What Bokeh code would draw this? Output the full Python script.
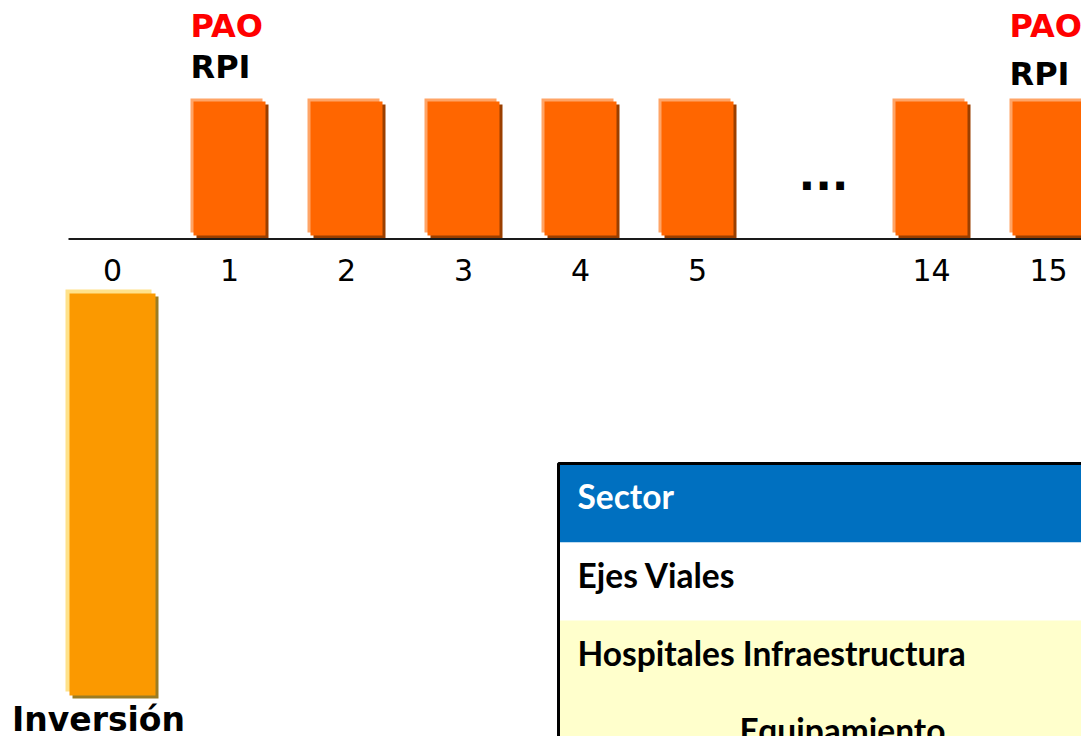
from bokeh.plotting import figure
from bokeh.models import Range1d
from bokeh.core.properties import value
from bokeh.embed import file_html
from bokeh.resources import INLINE

# ---------------- data ----------------
periods = ["0", "1", "2", "3", "4", "5", "14", "15"]
payment_periods = ["1", "2", "3", "4", "5", "14", "15"]
payment_values = [1.0, 1.0, 1.0, 1.0, 1.0, 1.0, 1.0]
investment_label = "Inversión"
investment_value = 3.0
gap_label = "..."
pao_periods = ["1", "15"]
pao_labels = ["PAO", "PAO"]
rpi_labels = ["RPI", "RPI"]
table_rows = ["Sector", "Ejes Viales", "Hospitales Infraestructura"]
table_next = "Equipamiento"

# ---------------- layout helpers ----------------
W, H = 1081, 736
X0, SX = 112.0, 117.0   # px of slot 0, px per slot
Y0, SY = 238.0, 134.0   # px of baseline, px per unit


def px2x(px):
    return (px - X0) / SX


def py2y(py):
    return (Y0 - py) / SY


def slot(p):
    i = periods.index(p)
    return i if i <= 5 else i + 1  # broken axis: one empty slot for "..."


gap_slot = 6

p = figure(width=W, height=H, output_backend="svg", toolbar_location=None,
           x_range=Range1d(px2x(0), px2x(W)),
           y_range=Range1d(py2y(H), py2y(0)),
           x_axis_location=None, y_axis_location=None, min_border=0)
p.grid.visible = False
p.outline_line_color = None
p.background_fill_color = "white"
p.border_fill_color = "white"

# ---------------- payment bars ----------------
xs = [slot(q) for q in payment_periods]
w = 72 / SX
dx, dy = 3 / SX, 3 / SY
p.quad(left=[x - w / 2 + dx for x in xs], right=[x + w / 2 + dx for x in xs],
       bottom=[0] * len(xs), top=payment_values,
       fill_color="#9A3F00", line_color=None)
p.quad(left=[x - w / 2 - dx for x in xs], right=[x + w / 2 - dx for x in xs],
       bottom=[2 * dy] * len(xs), top=[v + 2 * dy for v in payment_values],
       fill_color="#FFA466", line_color=None)
p.quad(left=[x - w / 2 for x in xs], right=[x + w / 2 for x in xs],
       bottom=[dy] * len(xs), top=[v + dy for v in payment_values],
       fill_color="#FF6600", line_color=None)

# ---------------- investment bar ----------------
x0 = slot("0")
wi = 86 / SX
itop = py2y(293)
ibot = itop - investment_value
ex, ey = 4 / SX, 4 / SY
p.quad(left=[x0 - wi / 2 + dx], right=[x0 + wi / 2 + dx],
       bottom=[ibot - dy], top=[itop - dy], fill_color="#9C7C22", line_color=None)
p.quad(left=[x0 - wi / 2 - ex], right=[x0 + wi / 2 - ex],
       bottom=[ibot + ey], top=[itop + ey], fill_color="#FFE28A", line_color=None)
p.quad(left=[x0 - wi / 2], right=[x0 + wi / 2],
       bottom=[ibot], top=[itop], fill_color="#FB9900", line_color=None)
p.text(x=[x0], y=[py2y(719)], text=[investment_label], x_offset=-14,
       text_align="center", text_baseline="alphabetic",
       text_font=value("DejaVu Sans"), text_font_style="bold",
       text_font_size="33px", text_color="black")

# ---------------- time axis ----------------
p.segment(x0=[px2x(68)], x1=[px2x(1100)], y0=[py2y(238.5)], y1=[py2y(238.5)],
          line_color="#1a1a1a", line_width=2)
p.text(x=[slot(q) for q in periods], y=[py2y(269)] * len(periods), text=periods,
       text_align="center", text_baseline="alphabetic",
       text_font=value("DejaVu Sans"), text_font_size="30px", text_color="black")
p.text(x=[gap_slot], y=[py2y(173)], text=[gap_label], x_offset=9,
       text_align="center", text_baseline="alphabetic",
       text_font=value("DejaVu Sans"), text_font_style="bold",
       text_font_size="44px", text_color="black")

# ---------------- PAO / RPI labels ----------------
lx = [slot(q) - w / 2 - dx for q in pao_periods]
p.text(x=lx, y=[py2y(25)] * 2, text=pao_labels, text_align="left",
       text_baseline="alphabetic", text_font=value("DejaVu Sans"),
       text_font_style="bold", text_font_size="32px", text_color="#FF0000")
rpi_base = [66, 73]
p.text(x=lx, y=[py2y(b) for b in rpi_base], text=rpi_labels, text_align="left",
       text_baseline="alphabetic", text_font=value("DejaVu Sans"),
       text_font_style="bold", text_font_size="32px", text_color="black")

# ---------------- table ----------------
tl, tr = px2x(558), px2x(1110)
row_edges = [463, 542, 620, 800]
row_fills = ["#0070C0", "#FFFFFF", "#FFFFCC"]
p.quad(left=[tl] * 3, right=[tr] * 3,
       top=[py2y(e) for e in row_edges[:-1]],
       bottom=[py2y(e) for e in row_edges[1:]],
       fill_color=row_fills, line_color=None)
p.quad(left=[tl], right=[tr], top=[py2y(463)], bottom=[py2y(800)],
       fill_color=None, line_color="black", line_width=3)
p.text(x=[px2x(577)] * 3, y=[py2y(b) for b in [495, 574, 652]], text=table_rows,
       text_align="left", text_baseline="alphabetic",
       text_font=value("Lato"), text_font_style="bold", text_font_size="33.5px",
       text_color=["white", "black", "black"])
p.text(x=[px2x(842)], y=[py2y(729)], text=[table_next],
       text_align="center", text_baseline="alphabetic",
       text_font=value("Lato"), text_font_style="bold", text_font_size="33.5px",
       text_color="black")

open("out.html", "w").write(file_html(p, INLINE))
